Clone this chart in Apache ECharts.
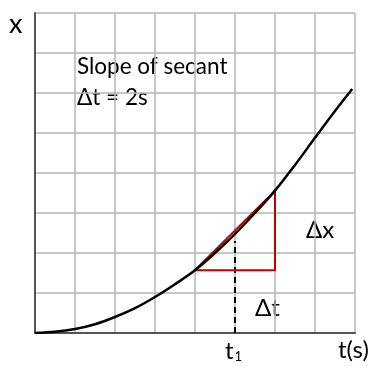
<!DOCTYPE html>
<html>
<head>
<meta charset="utf-8">
<script src="https://cdn.jsdelivr.net/npm/echarts@6/dist/echarts.min.js"></script>
<style>
  html, body { margin: 0; padding: 0; background: #fff; }
  #chart { width: 388px; height: 366px; }
</style>
</head>
<body>
<div id="chart"></div>
<script>
// Position–time curve x(t), sampled along t (seconds) in grid units
const curveT = [0, 0.5, 1, 1.5, 2, 2.5, 3, 3.5, 4, 4.5, 5, 5.5, 6, 6.5, 7, 7.5, 7.93];
const curveX = [0, 0.03, 0.1, 0.22, 0.4, 0.62, 0.9, 1.22, 1.57, 2.0, 2.48, 3.0, 3.56, 4.2, 4.88, 5.55, 6.1];

// Secant between t = 4 s and t = 6 s (Δt = 2 s)
const secantT = [4, 6];
const secantX = [1.57, 3.56];

// Midpoint time t1 and the height of its dashed marker
const t1 = 5;
const t1MarkerTop = 2.3;

// Axis range and grid step
const axisMax = 8;
const gridStep = 1;

const FONT = 'Lato, "Open Sans", sans-serif';

const curveData = curveT.map((t, i) => [t, curveX[i]]);
const triangleData = [
  [secantT[0], secantX[0]],
  [secantT[1], secantX[1]],
  [secantT[1], secantX[0]],
  [secantT[0], secantX[0]]
];
const dashData = [[t1, 0], [t1, t1MarkerTop]];

const chart = echarts.init(document.getElementById('chart'), null, { renderer: 'canvas' });

const axisCommon = {
  type: 'value',
  min: 0,
  max: axisMax,
  interval: gridStep,
  axisLabel: { show: false },
  axisTick: { show: false },
  splitLine: { show: true, lineStyle: { color: '#b4b4b4', width: 1.5 } },
  axisLine: { show: true, onZero: false, lineStyle: { color: '#555', width: 2 } }
};

chart.setOption({
  animation: false,
  backgroundColor: '#fff',
  grid: { left: 35, top: 13, width: 320, height: 320, containLabel: false },
  xAxis: axisCommon,
  yAxis: axisCommon,
  series: [
    {
      type: 'line',
      data: dashData,
      symbol: 'none',
      lineStyle: { color: '#000', width: 2, type: [6, 4] },
      z: 3
    },
    {
      type: 'line',
      data: triangleData,
      symbol: 'none',
      lineStyle: { color: '#c00000', width: 2 },
      z: 4
    },
    {
      type: 'line',
      data: curveData,
      smooth: 0.3,
      symbol: 'none',
      lineStyle: { color: '#000', width: 2.5 },
      z: 5
    }
  ],
  graphic: [
    { type: 'text', left: 9, top: 11, style: { text: 'x', font: '27px ' + FONT, fill: '#000' } },
    { type: 'text', left: 77, top: 55, style: { text: 'Slope of secant', font: '22.5px ' + FONT, fill: '#000' } },
    { type: 'text', left: 77, top: 86, style: { text: 'Δt = 2s', font: '22.5px ' + FONT, fill: '#000' } },
    { type: 'text', left: 306, top: 218, style: { text: 'Δx', font: '24px ' + FONT, fill: '#000' } },
    { type: 'text', left: 255, top: 296, style: { text: 'Δt', font: '24px ' + FONT, fill: '#000' } },
    {
      type: 'text', left: 225, top: 339,
      style: {
        text: 't{sub|1}',
        font: '24px ' + FONT,
        fill: '#000',
        rich: { sub: { fontSize: 13, fontFamily: FONT, verticalAlign: 'bottom', padding: [10, 0, 0, 1] } }
      }
    },
    { type: 'text', left: 338, top: 338, style: { text: 't(s)', font: '24px ' + FONT, fill: '#000' } }
  ]
});
</script>
</body>
</html>
